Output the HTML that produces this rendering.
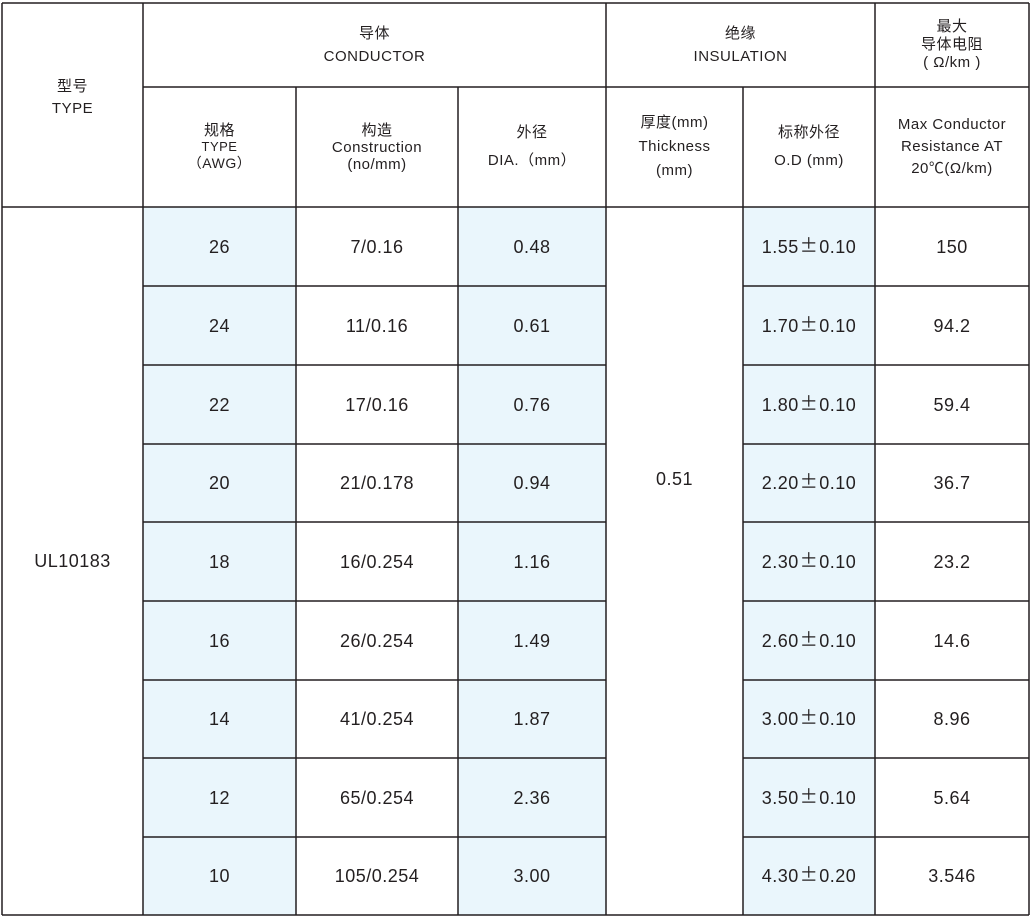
<!DOCTYPE html><html><head><meta charset="utf-8"><style>
body{margin:0;width:1033px;height:918px;background:#fff;position:relative;overflow:hidden;font-family:"Liberation Sans","Noto Sans CJK SC",sans-serif;color:#231f20}
.c{position:absolute;display:flex;align-items:center;justify-content:center;text-align:center;flex-direction:column}
.h{font-size:15px;line-height:18px;letter-spacing:0.5px}
.d{font-size:18px;letter-spacing:0.5px;line-height:20px}
.d>div{height:20px;line-height:20px}
.pm{font-family:"Noto Sans CJK SC",sans-serif;font-size:18px;margin:0 1px;line-height:1;display:inline-block;vertical-align:top;position:relative;top:-1px}
.b{position:absolute;background:#eaf6fc}
svg{position:absolute;left:0;top:0}
</style></head><body>
<div id="bg"></div>
<script>
var rows=[207,286,365,444,522,601,680,758,837,915];
var data=[["26","7/0.16","0.48","1.55±0.10","150"],["24","11/0.16","0.61","1.70±0.10","94.2"],["22","17/0.16","0.76","1.80±0.10","59.4"],["20","21/0.178","0.94","2.20±0.10","36.7"],["18","16/0.254","1.16","2.30±0.10","23.2"],["16","26/0.254","1.49","2.60±0.10","14.6"],["14","41/0.254","1.87","3.00±0.10","8.96"],["12","65/0.254","2.36","3.50±0.10","5.64"],["10","105/0.254","3.00","4.30±0.20","3.546"]];
var cols=[[143,296],[296,458],[458,606],[743,875],[875,1029]];
var h="";
[[143,296],[458,606],[743,875]].forEach(function(c){h+='<div class="b" style="left:'+c[0]+'px;top:207px;width:'+(c[1]-c[0])+'px;height:708px"></div>';});
for(var i=0;i<9;i++){for(var j=0;j<5;j++){var c=cols[j];var t=data[i][j].replace("±",'<span class="pm">±</span>');h+='<div class="c d" style="left:'+c[0]+'px;top:'+rows[i]+'px;width:'+(c[1]-c[0])+'px;height:'+(rows[i+1]-rows[i])+'px"><div>'+t+'</div></div>';}}
var s='<svg width="1033" height="918" stroke="#231f20" stroke-width="1.5">';
function L(a,b,c,d){s+='<line x1="'+a+'" y1="'+b+'" x2="'+c+'" y2="'+d+'"/>';}
L(2,3,1029,3);L(2,915,1029,915);L(2,3,2,915);L(1029,3,1029,915);
L(143,87,1029,87);L(2,207,1029,207);
L(143,3,143,915);L(606,3,606,915);L(875,3,875,915);
L(296,87,296,915);L(458,87,458,915);L(743,87,743,915);
for(var i=1;i<9;i++){L(143,rows[i],606,rows[i]);L(743,rows[i],1029,rows[i]);}
s+='</svg>';
document.getElementById("bg").innerHTML=h+s;
</script>
<div class="c h" style="left:2px;top:3px;width:141px;height:190px;line-height:22px">型号<br>TYPE</div>
<div class="c h" style="left:143px;top:3px;width:463px;height:84px;line-height:23px">导体<br>CONDUCTOR</div>
<div class="c h" style="left:606px;top:3px;width:269px;height:84px;line-height:23px">绝缘<br>INSULATION</div>
<div class="c h" style="left:875px;top:3px;width:154px;height:84px;line-height:18px">最大<br>导体电阻<br>( Ω/km )</div>
<div class="c h" style="left:143px;top:87px;width:153px;height:120px;line-height:16px">规格<br><span style="font-size:13px">TYPE</span><span style="font-size:14px">（AWG）</span></div>
<div class="c h" style="left:296px;top:87px;width:162px;height:120px;line-height:17px">构造<br>Construction<br>(no/mm)</div>
<div class="c h" style="left:458px;top:87px;width:148px;height:120px;line-height:28px">外径<br>DIA.（mm）</div>
<div class="c h" style="left:606px;top:87px;width:137px;height:120px;line-height:24px">厚度(mm)<br>Thickness<br>(mm)</div>
<div class="c h" style="left:743px;top:87px;width:132px;height:120px;line-height:28px">标称外径<br>O.D (mm)</div>
<div class="c h" style="left:875px;top:87px;width:154px;height:120px;line-height:22px">Max Conductor<br>Resistance AT<br>20℃(Ω/km)</div>
<div class="c d" style="left:2px;top:207px;width:141px;height:708px">UL10183</div>
<div class="c d" style="left:606px;top:207px;width:137px;height:543px">0.51</div>
</body></html>
